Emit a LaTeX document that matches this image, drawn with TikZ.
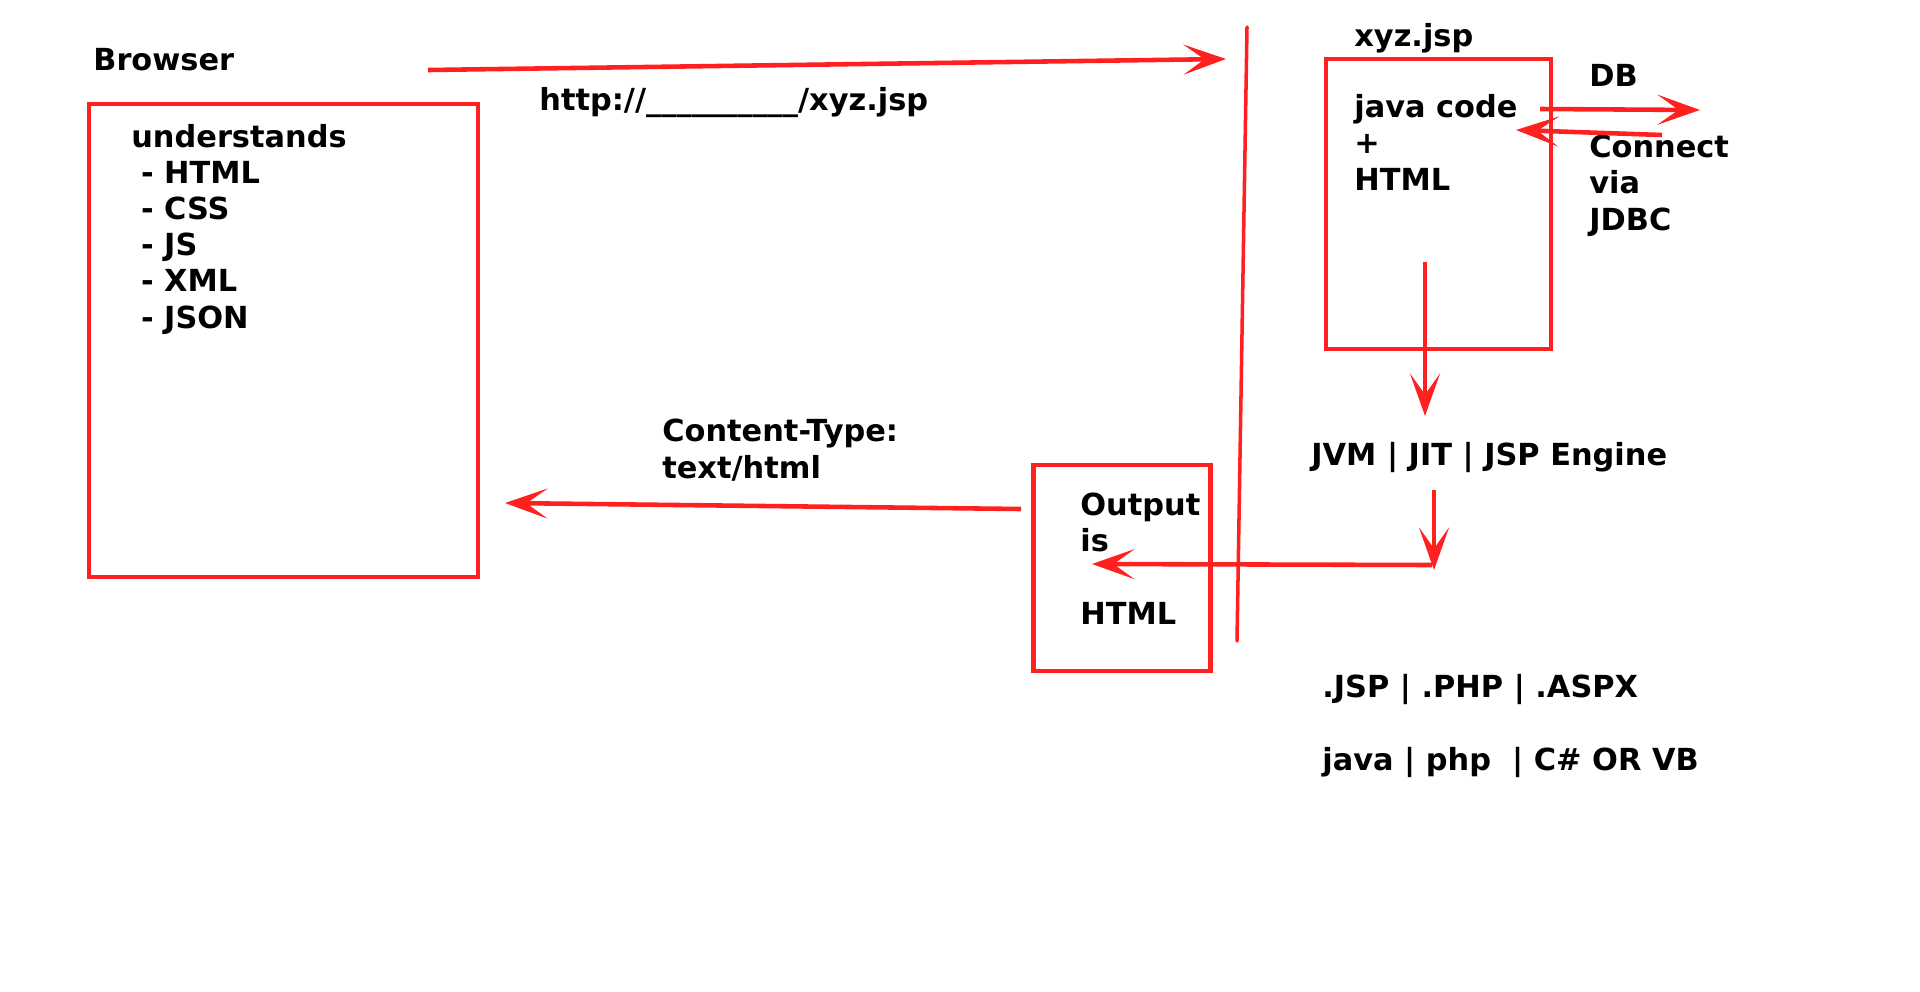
\documentclass[tikz,border=0pt]{standalone}
\usepackage{fontspec}
\setmainfont{DejaVu Sans}
\usetikzlibrary{arrows.meta}
\definecolor{penred}{RGB}{255,32,32}
\tikzset{
  redbox/.style={draw=penred,line width=2.6pt},
  redarrow/.style={draw=penred,line width=2.6pt,-{Stealth[length=0.85cm,width=0.6cm,inset=0.42cm]}},
  lbl/.style={anchor=base west,inner sep=0pt,align=left,font=\fontsize{17.3}{20.5}\selectfont\bfseries},
}

\begin{document}
\begin{tikzpicture}[x=0.02cm,y=-0.02cm]
\useasboundingbox (0,0) rectangle (1920,991);
% boxes
\node[redbox,minimum width=7.78cm,minimum height=9.46cm] (browser) at (283.5,340.5) {};
\node[redbox,minimum width=4.5cm,minimum height=5.8cm] (jsp) at (1438.5,204) {};
\node[redbox,minimum width=3.54cm,minimum height=4.12cm] (output) at (1122,568) {};
% server line
\coordinate (srvtop) at (1247,27);
\coordinate (srvbot) at (1237,641);
\draw[penred,line width=2pt,line cap=round] (srvtop) -- (srvbot);
% labels (multi-line ones are placed by their last baseline)
\node[lbl] (browsertxt) at (93,70) {Browser};
\node[lbl] (understands) at (131,328) {understands\\\hspace{5.5pt}- HTML\\\hspace{5.5pt}- CSS\\\hspace{5.5pt}- JS\\\hspace{5.5pt}- XML\\\hspace{5.5pt}- JSON};
\node[lbl] (url) at (539,110) {http://\_\_\_\_\_\_\_\_\_\_/xyz.jsp};
\node[lbl] (jspname) at (1354,46) {xyz.jsp};
\node[lbl] (jspcode) at (1354,190) {java code\\+\\HTML};
\node[lbl] (db) at (1589,86) {DB};
\node[lbl] (jdbc) at (1589,230) {Connect\\via\\JDBC};
\node[lbl] (engine) at (1311,465) {JVM | JIT | JSP Engine};
\node[lbl] (outtxt) at (1080,624) {Output\\is\\[20.5pt]HTML};
\node[lbl] (ctype) at (662,478) {Content-Type:\\text/html};
\node[lbl] (langs) at (1322,770) {.JSP | .PHP | .ASPX\\[20.5pt]java | php\ \ | C\# OR VB};
% arrows
\coordinate (reqs) at (428,70);
\coordinate (reqe) at (1226,59);
\draw[redarrow] (reqs) -- (reqe);
\coordinate (dbs) at (1540,109);
\coordinate (dbe) at (1700,110);
\draw[redarrow] (dbs) -- (dbe);
\coordinate (dbrs) at (1662,135);
\coordinate (dbre) at (1516,130);
\draw[redarrow] (dbrs) -- (dbre);
\coordinate (comps) at (1425,262);
\coordinate (compe) at (1425,416);
\draw[redarrow] (comps) -- (compe);
\coordinate (runs) at (1434,490);
\coordinate (rune) at (1434,570);
\draw[redarrow] (runs) -- (rune);
\coordinate (outs) at (1432,565);
\coordinate (oute) at (1092,564);
\draw[redarrow] (outs) -- (oute);
\coordinate (resps) at (1021,509);
\coordinate (respe) at (505,503);
\draw[redarrow] (resps) -- (respe);
\end{tikzpicture}
\end{document}
